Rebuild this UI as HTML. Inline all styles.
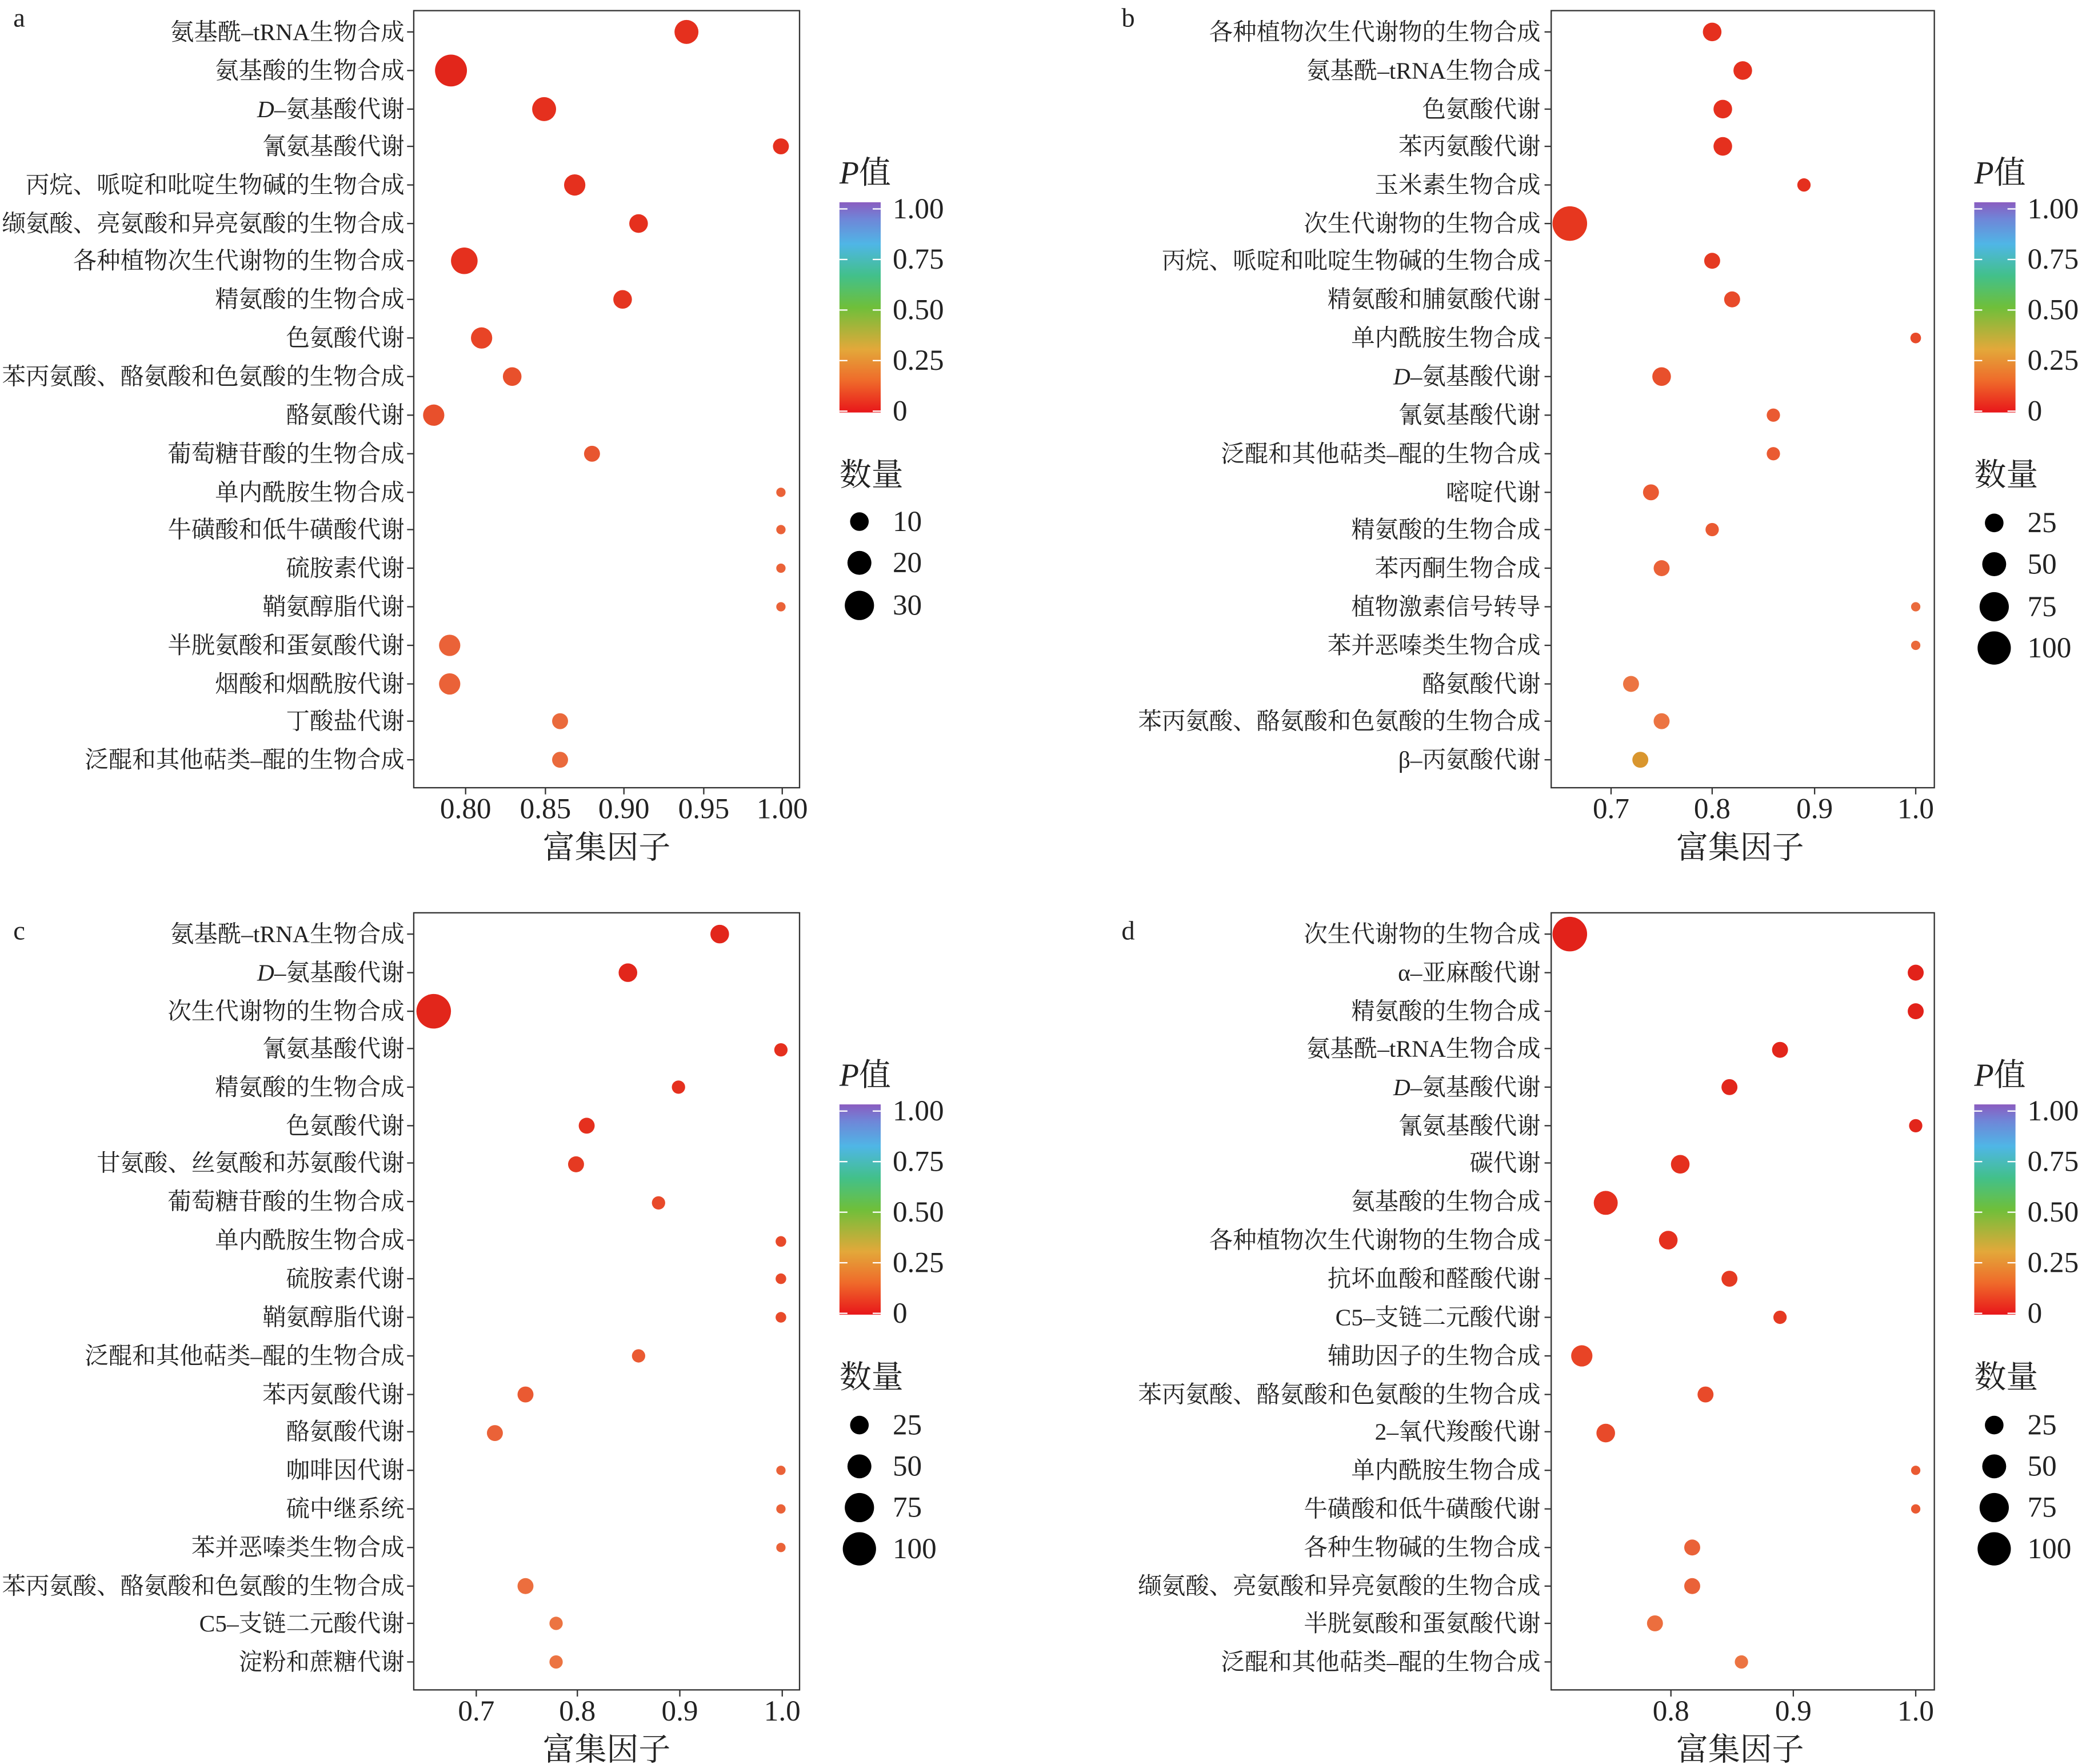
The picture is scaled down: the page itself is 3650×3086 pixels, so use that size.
<!DOCTYPE html>
<html><head><meta charset="utf-8">
<style>
html,body{margin:0;padding:0;background:#fff;}
svg{display:block;}
text{font-family:"Liberation Serif","Noto Serif CJK SC",serif;fill:#222;}
.lab{font-size:17.8px;text-anchor:end;}
.tk{font-size:22px;text-anchor:middle;}
.ttl{font-size:24px;text-anchor:middle;}
.lg{font-size:22px;}
.lgt{font-size:24px;}
</style></head><body>
<svg width="3650" height="3086" viewBox="0 0 1568 1325.7" preserveAspectRatio="none" xmlns="http://www.w3.org/2000/svg">
<defs>
<linearGradient id="cb" x1="0" y1="1" x2="0" y2="0">
<stop offset="0" stop-color="#e8161a"/>
<stop offset="0.15" stop-color="#ef6a2a"/>
<stop offset="0.3" stop-color="#e3a83a"/>
<stop offset="0.5" stop-color="#6fbf3a"/>
<stop offset="0.65" stop-color="#42c08a"/>
<stop offset="0.8" stop-color="#4fb6e6"/>
<stop offset="0.92" stop-color="#6f86d8"/>
<stop offset="1" stop-color="#8a5cc0"/>
</linearGradient>
</defs>
<rect width="1568" height="1325.7" fill="#fff"/>

<text x="10" y="20" style="font-size:20px">a</text>
<text x="843" y="20" style="font-size:20px">b</text>
<text x="10" y="706" style="font-size:20px">c</text>
<text x="843" y="706" style="font-size:20px">d</text>

<!-- ===== Panel a ===== -->
<rect x="311" y="8" width="290" height="584" fill="none" stroke="#333" stroke-width="1"/>
<g stroke="#333" stroke-width="1">
<line x1="306" x2="311" y1="24" y2="24"/><line x1="306" x2="311" y1="53" y2="53"/><line x1="306" x2="311" y1="82" y2="82"/><line x1="306" x2="311" y1="110" y2="110"/><line x1="306" x2="311" y1="139" y2="139"/><line x1="306" x2="311" y1="168" y2="168"/><line x1="306" x2="311" y1="196" y2="196"/><line x1="306" x2="311" y1="225" y2="225"/><line x1="306" x2="311" y1="254" y2="254"/><line x1="306" x2="311" y1="283" y2="283"/><line x1="306" x2="311" y1="312" y2="312"/><line x1="306" x2="311" y1="341" y2="341"/><line x1="306" x2="311" y1="370" y2="370"/><line x1="306" x2="311" y1="398" y2="398"/><line x1="306" x2="311" y1="427" y2="427"/><line x1="306" x2="311" y1="456" y2="456"/><line x1="306" x2="311" y1="485" y2="485"/><line x1="306" x2="311" y1="514" y2="514"/><line x1="306" x2="311" y1="542" y2="542"/><line x1="306" x2="311" y1="571" y2="571"/>
<line x1="350" x2="350" y1="592" y2="597"/><line x1="410" x2="410" y1="592" y2="597"/><line x1="469" x2="469" y1="592" y2="597"/><line x1="529" x2="529" y1="592" y2="597"/><line x1="588" x2="588" y1="592" y2="597"/>
</g>
<text class="lab" x="304" y="30">氨基酰–tRNA生物合成</text>
<text class="lab" x="304" y="59">氨基酸的生物合成</text>
<text class="lab" x="304" y="88"><tspan font-style="italic">D</tspan>–氨基酸代谢</text>
<text class="lab" x="304" y="116">氰氨基酸代谢</text>
<text class="lab" x="304" y="145">丙烷、哌啶和吡啶生物碱的生物合成</text>
<text class="lab" x="304" y="174">缬氨酸、亮氨酸和异亮氨酸的生物合成</text>
<text class="lab" x="304" y="202">各种植物次生代谢物的生物合成</text>
<text class="lab" x="304" y="231">精氨酸的生物合成</text>
<text class="lab" x="304" y="260">色氨酸代谢</text>
<text class="lab" x="304" y="289">苯丙氨酸、酪氨酸和色氨酸的生物合成</text>
<text class="lab" x="304" y="318">酪氨酸代谢</text>
<text class="lab" x="304" y="347">葡萄糖苷酸的生物合成</text>
<text class="lab" x="304" y="376">单内酰胺生物合成</text>
<text class="lab" x="304" y="404">牛磺酸和低牛磺酸代谢</text>
<text class="lab" x="304" y="433">硫胺素代谢</text>
<text class="lab" x="304" y="462">鞘氨醇脂代谢</text>
<text class="lab" x="304" y="491">半胱氨酸和蛋氨酸代谢</text>
<text class="lab" x="304" y="520">烟酸和烟酰胺代谢</text>
<text class="lab" x="304" y="548">丁酸盐代谢</text>
<text class="lab" x="304" y="577">泛醌和其他萜类–醌的生物合成</text>
<g>
<circle cx="516" cy="24" r="9" fill="#e5301e"/>
<circle cx="339" cy="53" r="12" fill="#e2261b"/>
<circle cx="409" cy="82" r="9" fill="#e5301e"/>
<circle cx="587" cy="110" r="6" fill="#e5301e"/>
<circle cx="432" cy="139" r="8" fill="#e5301e"/>
<circle cx="480" cy="168" r="7" fill="#e5301e"/>
<circle cx="349" cy="196" r="10" fill="#e5301e"/>
<circle cx="468" cy="225" r="7" fill="#e53520"/>
<circle cx="362" cy="254" r="8" fill="#e84426"/>
<circle cx="385" cy="283" r="7" fill="#e8502c"/>
<circle cx="326" cy="312" r="8" fill="#e8502c"/>
<circle cx="445" cy="341" r="6" fill="#e85630"/>
<circle cx="587" cy="370" r="3.5" fill="#ea6238"/>
<circle cx="587" cy="398" r="3.5" fill="#ea6238"/>
<circle cx="587" cy="427" r="3.5" fill="#ea6238"/>
<circle cx="587" cy="456" r="3.5" fill="#ea6238"/>
<circle cx="338" cy="485" r="8" fill="#ea6238"/>
<circle cx="338" cy="514" r="8" fill="#ea6238"/>
<circle cx="421" cy="542" r="6" fill="#ea6a3c"/>
<circle cx="421" cy="571" r="6" fill="#ea6a3c"/>
</g>
<text class="tk" x="350" y="615">0.80</text><text class="tk" x="410" y="615">0.85</text><text class="tk" x="469" y="615">0.90</text><text class="tk" x="529" y="615">0.95</text><text class="tk" x="588" y="615">1.00</text>
<text class="ttl" x="456" y="645">富集因子</text>

<text class="lgt" x="631" y="138"><tspan font-style="italic">P</tspan>值</text>
<rect x="631" y="152" width="31" height="158" fill="url(#cb)"/>
<g stroke="#fff" stroke-width="1"><line x1="631" x2="637" y1="157" y2="157"/><line x1="656" x2="662" y1="157" y2="157"/><line x1="631" x2="637" y1="195" y2="195"/><line x1="656" x2="662" y1="195" y2="195"/><line x1="631" x2="637" y1="233" y2="233"/><line x1="656" x2="662" y1="233" y2="233"/><line x1="631" x2="637" y1="271" y2="271"/><line x1="656" x2="662" y1="271" y2="271"/><line x1="631" x2="637" y1="309" y2="309"/><line x1="656" x2="662" y1="309" y2="309"/></g>
<text class="lg" x="671" y="164">1.00</text><text class="lg" x="671" y="202">0.75</text><text class="lg" x="671" y="240">0.50</text><text class="lg" x="671" y="278">0.25</text><text class="lg" x="671" y="316">0</text>
<text class="lgt" x="631" y="365">数量</text>
<circle cx="646" cy="392" r="7" fill="#000"/><circle cx="646" cy="423" r="9" fill="#000"/><circle cx="646" cy="455" r="11" fill="#000"/>
<text class="lg" x="671" y="399">10</text><text class="lg" x="671" y="430">20</text><text class="lg" x="671" y="462">30</text>

<!-- ===== Panel b ===== -->
<rect x="1166" y="8" width="288" height="584" fill="none" stroke="#333" stroke-width="1"/>
<g stroke="#333" stroke-width="1">
<line x1="1161" x2="1166" y1="24" y2="24"/><line x1="1161" x2="1166" y1="53" y2="53"/><line x1="1161" x2="1166" y1="82" y2="82"/><line x1="1161" x2="1166" y1="110" y2="110"/><line x1="1161" x2="1166" y1="139" y2="139"/><line x1="1161" x2="1166" y1="168" y2="168"/><line x1="1161" x2="1166" y1="196" y2="196"/><line x1="1161" x2="1166" y1="225" y2="225"/><line x1="1161" x2="1166" y1="254" y2="254"/><line x1="1161" x2="1166" y1="283" y2="283"/><line x1="1161" x2="1166" y1="312" y2="312"/><line x1="1161" x2="1166" y1="341" y2="341"/><line x1="1161" x2="1166" y1="370" y2="370"/><line x1="1161" x2="1166" y1="398" y2="398"/><line x1="1161" x2="1166" y1="427" y2="427"/><line x1="1161" x2="1166" y1="456" y2="456"/><line x1="1161" x2="1166" y1="485" y2="485"/><line x1="1161" x2="1166" y1="514" y2="514"/><line x1="1161" x2="1166" y1="542" y2="542"/><line x1="1161" x2="1166" y1="571" y2="571"/>
<line x1="1211" x2="1211" y1="592" y2="597"/><line x1="1287" x2="1287" y1="592" y2="597"/><line x1="1364" x2="1364" y1="592" y2="597"/><line x1="1440" x2="1440" y1="592" y2="597"/>
</g>
<text class="lab" x="1158" y="30">各种植物次生代谢物的生物合成</text>
<text class="lab" x="1158" y="59">氨基酰–tRNA生物合成</text>
<text class="lab" x="1158" y="88">色氨酸代谢</text>
<text class="lab" x="1158" y="116">苯丙氨酸代谢</text>
<text class="lab" x="1158" y="145">玉米素生物合成</text>
<text class="lab" x="1158" y="174">次生代谢物的生物合成</text>
<text class="lab" x="1158" y="202">丙烷、哌啶和吡啶生物碱的生物合成</text>
<text class="lab" x="1158" y="231">精氨酸和脯氨酸代谢</text>
<text class="lab" x="1158" y="260">单内酰胺生物合成</text>
<text class="lab" x="1158" y="289"><tspan font-style="italic">D</tspan>–氨基酸代谢</text>
<text class="lab" x="1158" y="318">氰氨基酸代谢</text>
<text class="lab" x="1158" y="347">泛醌和其他萜类–醌的生物合成</text>
<text class="lab" x="1158" y="376">嘧啶代谢</text>
<text class="lab" x="1158" y="404">精氨酸的生物合成</text>
<text class="lab" x="1158" y="433">苯丙酮生物合成</text>
<text class="lab" x="1158" y="462">植物激素信号转导</text>
<text class="lab" x="1158" y="491">苯并恶嗪类生物合成</text>
<text class="lab" x="1158" y="520">酪氨酸代谢</text>
<text class="lab" x="1158" y="548">苯丙氨酸、酪氨酸和色氨酸的生物合成</text>
<text class="lab" x="1158" y="577">β–丙氨酸代谢</text>
<g>
<circle cx="1287" cy="24" r="7" fill="#e5301e"/>
<circle cx="1310" cy="53" r="7" fill="#e5301e"/>
<circle cx="1295" cy="82" r="7" fill="#e5301e"/>
<circle cx="1295" cy="110" r="7" fill="#e5301e"/>
<circle cx="1356" cy="139" r="5" fill="#e5301e"/>
<circle cx="1180" cy="168" r="13" fill="#e6371f"/>
<circle cx="1287" cy="196" r="6" fill="#e53a22"/>
<circle cx="1302" cy="225" r="6" fill="#e84a2a"/>
<circle cx="1440" cy="254" r="4" fill="#e84a2a"/>
<circle cx="1249" cy="283" r="7" fill="#e8502c"/>
<circle cx="1333" cy="312" r="5" fill="#ea5a32"/>
<circle cx="1333" cy="341" r="5" fill="#ea5a32"/>
<circle cx="1241" cy="370" r="6" fill="#ea5a32"/>
<circle cx="1287" cy="398" r="5" fill="#ea5a32"/>
<circle cx="1249" cy="427" r="6" fill="#ea6238"/>
<circle cx="1440" cy="456" r="3.5" fill="#ea6a3c"/>
<circle cx="1440" cy="485" r="3.5" fill="#ea6a3c"/>
<circle cx="1226" cy="514" r="6" fill="#ec7442"/>
<circle cx="1249" cy="542" r="6" fill="#ec7442"/>
<circle cx="1233" cy="571" r="6" fill="#d9962e"/>
</g>
<text class="tk" x="1211" y="615">0.7</text><text class="tk" x="1287" y="615">0.8</text><text class="tk" x="1364" y="615">0.9</text><text class="tk" x="1440" y="615">1.0</text>
<text class="ttl" x="1308" y="645">富集因子</text>

<text class="lgt" x="1484" y="138"><tspan font-style="italic">P</tspan>值</text>
<rect x="1484" y="152" width="31" height="158" fill="url(#cb)"/>
<g stroke="#fff" stroke-width="1"><line x1="1484" x2="1490" y1="157" y2="157"/><line x1="1509" x2="1515" y1="157" y2="157"/><line x1="1484" x2="1490" y1="195" y2="195"/><line x1="1509" x2="1515" y1="195" y2="195"/><line x1="1484" x2="1490" y1="233" y2="233"/><line x1="1509" x2="1515" y1="233" y2="233"/><line x1="1484" x2="1490" y1="271" y2="271"/><line x1="1509" x2="1515" y1="271" y2="271"/><line x1="1484" x2="1490" y1="309" y2="309"/><line x1="1509" x2="1515" y1="309" y2="309"/></g>
<text class="lg" x="1524" y="164">1.00</text><text class="lg" x="1524" y="202">0.75</text><text class="lg" x="1524" y="240">0.50</text><text class="lg" x="1524" y="278">0.25</text><text class="lg" x="1524" y="316">0</text>
<text class="lgt" x="1484" y="365">数量</text>
<circle cx="1499" cy="393" r="7" fill="#000"/><circle cx="1499" cy="424" r="9" fill="#000"/><circle cx="1499" cy="456" r="11" fill="#000"/><circle cx="1499" cy="487" r="12.5" fill="#000"/>
<text class="lg" x="1524" y="400">25</text><text class="lg" x="1524" y="431">50</text><text class="lg" x="1524" y="463">75</text><text class="lg" x="1524" y="494">100</text>

<!-- ===== Panel c ===== -->
<g transform="translate(0,678)">
<rect x="311" y="8" width="290" height="584" fill="none" stroke="#333" stroke-width="1"/>
<g stroke="#333" stroke-width="1">
<line x1="306" x2="311" y1="24" y2="24"/><line x1="306" x2="311" y1="53" y2="53"/><line x1="306" x2="311" y1="82" y2="82"/><line x1="306" x2="311" y1="110" y2="110"/><line x1="306" x2="311" y1="139" y2="139"/><line x1="306" x2="311" y1="168" y2="168"/><line x1="306" x2="311" y1="196" y2="196"/><line x1="306" x2="311" y1="225" y2="225"/><line x1="306" x2="311" y1="254" y2="254"/><line x1="306" x2="311" y1="283" y2="283"/><line x1="306" x2="311" y1="312" y2="312"/><line x1="306" x2="311" y1="341" y2="341"/><line x1="306" x2="311" y1="370" y2="370"/><line x1="306" x2="311" y1="398" y2="398"/><line x1="306" x2="311" y1="427" y2="427"/><line x1="306" x2="311" y1="456" y2="456"/><line x1="306" x2="311" y1="485" y2="485"/><line x1="306" x2="311" y1="514" y2="514"/><line x1="306" x2="311" y1="542" y2="542"/><line x1="306" x2="311" y1="571" y2="571"/>
<line x1="358" x2="358" y1="592" y2="597"/><line x1="434" x2="434" y1="592" y2="597"/><line x1="511" x2="511" y1="592" y2="597"/><line x1="588" x2="588" y1="592" y2="597"/>
</g>
<text class="lab" x="304" y="30">氨基酰–tRNA生物合成</text>
<text class="lab" x="304" y="59"><tspan font-style="italic">D</tspan>–氨基酸代谢</text>
<text class="lab" x="304" y="88">次生代谢物的生物合成</text>
<text class="lab" x="304" y="116">氰氨基酸代谢</text>
<text class="lab" x="304" y="145">精氨酸的生物合成</text>
<text class="lab" x="304" y="174">色氨酸代谢</text>
<text class="lab" x="304" y="202">甘氨酸、丝氨酸和苏氨酸代谢</text>
<text class="lab" x="304" y="231">葡萄糖苷酸的生物合成</text>
<text class="lab" x="304" y="260">单内酰胺生物合成</text>
<text class="lab" x="304" y="289">硫胺素代谢</text>
<text class="lab" x="304" y="318">鞘氨醇脂代谢</text>
<text class="lab" x="304" y="347">泛醌和其他萜类–醌的生物合成</text>
<text class="lab" x="304" y="376">苯丙氨酸代谢</text>
<text class="lab" x="304" y="404">酪氨酸代谢</text>
<text class="lab" x="304" y="433">咖啡因代谢</text>
<text class="lab" x="304" y="462">硫中继系统</text>
<text class="lab" x="304" y="491">苯并恶嗪类生物合成</text>
<text class="lab" x="304" y="520">苯丙氨酸、酪氨酸和色氨酸的生物合成</text>
<text class="lab" x="304" y="548">C5–支链二元酸代谢</text>
<text class="lab" x="304" y="577">淀粉和蔗糖代谢</text>
<circle cx="541" cy="24" r="7" fill="#e2261b"/>
<circle cx="472" cy="53" r="7" fill="#e2261b"/>
<circle cx="326" cy="82" r="13" fill="#e2261b"/>
<circle cx="587" cy="111" r="5" fill="#e5301e"/>
<circle cx="510" cy="139" r="5" fill="#e5301e"/>
<circle cx="441" cy="168" r="6" fill="#e5301e"/>
<circle cx="433" cy="197" r="6" fill="#e53a22"/>
<circle cx="495" cy="226" r="5" fill="#e84a2a"/>
<circle cx="587" cy="255" r="4" fill="#e84a2a"/>
<circle cx="587" cy="283" r="4" fill="#e84a2a"/>
<circle cx="587" cy="312" r="4" fill="#e84a2a"/>
<circle cx="480" cy="341" r="5" fill="#ea5a32"/>
<circle cx="395" cy="370" r="6" fill="#ea5a32"/>
<circle cx="372" cy="399" r="6" fill="#ea6238"/>
<circle cx="587" cy="427" r="3.5" fill="#ea6238"/>
<circle cx="587" cy="456" r="3.5" fill="#ea6238"/>
<circle cx="587" cy="485" r="3.5" fill="#ea6238"/>
<circle cx="395" cy="514" r="6" fill="#ec6e3e"/>
<circle cx="418" cy="542" r="5" fill="#ec7442"/>
<circle cx="418" cy="571" r="5" fill="#ec7442"/>
<text class="tk" x="358" y="615">0.7</text><text class="tk" x="434" y="615">0.8</text><text class="tk" x="511" y="615">0.9</text><text class="tk" x="588" y="615">1.0</text>
<text class="ttl" x="456" y="645">富集因子</text>
<text class="lgt" x="631" y="138"><tspan font-style="italic">P</tspan>值</text>
<rect x="631" y="152" width="31" height="158" fill="url(#cb)"/>
<g stroke="#fff" stroke-width="1"><line x1="631" x2="637" y1="157" y2="157"/><line x1="656" x2="662" y1="157" y2="157"/><line x1="631" x2="637" y1="195" y2="195"/><line x1="656" x2="662" y1="195" y2="195"/><line x1="631" x2="637" y1="233" y2="233"/><line x1="656" x2="662" y1="233" y2="233"/><line x1="631" x2="637" y1="271" y2="271"/><line x1="656" x2="662" y1="271" y2="271"/><line x1="631" x2="637" y1="309" y2="309"/><line x1="656" x2="662" y1="309" y2="309"/></g>
<text class="lg" x="671" y="164">1.00</text><text class="lg" x="671" y="202">0.75</text><text class="lg" x="671" y="240">0.50</text><text class="lg" x="671" y="278">0.25</text><text class="lg" x="671" y="316">0</text>
<text class="lgt" x="631" y="365">数量</text>
<circle cx="646" cy="393" r="7" fill="#000"/><circle cx="646" cy="424" r="9" fill="#000"/><circle cx="646" cy="455" r="11" fill="#000"/><circle cx="646" cy="486" r="12.5" fill="#000"/>
<text class="lg" x="671" y="400">25</text><text class="lg" x="671" y="431">50</text><text class="lg" x="671" y="462">75</text><text class="lg" x="671" y="493">100</text>
</g>

<!-- ===== Panel d ===== -->
<g transform="translate(0,678)">
<rect x="1166" y="8" width="288" height="584" fill="none" stroke="#333" stroke-width="1"/>
<g stroke="#333" stroke-width="1">
<line x1="1161" x2="1166" y1="24" y2="24"/><line x1="1161" x2="1166" y1="53" y2="53"/><line x1="1161" x2="1166" y1="82" y2="82"/><line x1="1161" x2="1166" y1="110" y2="110"/><line x1="1161" x2="1166" y1="139" y2="139"/><line x1="1161" x2="1166" y1="168" y2="168"/><line x1="1161" x2="1166" y1="196" y2="196"/><line x1="1161" x2="1166" y1="225" y2="225"/><line x1="1161" x2="1166" y1="254" y2="254"/><line x1="1161" x2="1166" y1="283" y2="283"/><line x1="1161" x2="1166" y1="312" y2="312"/><line x1="1161" x2="1166" y1="341" y2="341"/><line x1="1161" x2="1166" y1="370" y2="370"/><line x1="1161" x2="1166" y1="398" y2="398"/><line x1="1161" x2="1166" y1="427" y2="427"/><line x1="1161" x2="1166" y1="456" y2="456"/><line x1="1161" x2="1166" y1="485" y2="485"/><line x1="1161" x2="1166" y1="514" y2="514"/><line x1="1161" x2="1166" y1="542" y2="542"/><line x1="1161" x2="1166" y1="571" y2="571"/>
<line x1="1256" x2="1256" y1="592" y2="597"/><line x1="1348" x2="1348" y1="592" y2="597"/><line x1="1440" x2="1440" y1="592" y2="597"/>
</g>
<text class="lab" x="1158" y="30">次生代谢物的生物合成</text>
<text class="lab" x="1158" y="59">α–亚麻酸代谢</text>
<text class="lab" x="1158" y="88">精氨酸的生物合成</text>
<text class="lab" x="1158" y="116">氨基酰–tRNA生物合成</text>
<text class="lab" x="1158" y="145"><tspan font-style="italic">D</tspan>–氨基酸代谢</text>
<text class="lab" x="1158" y="174">氰氨基酸代谢</text>
<text class="lab" x="1158" y="202">碳代谢</text>
<text class="lab" x="1158" y="231">氨基酸的生物合成</text>
<text class="lab" x="1158" y="260">各种植物次生代谢物的生物合成</text>
<text class="lab" x="1158" y="289">抗坏血酸和醛酸代谢</text>
<text class="lab" x="1158" y="318">C5–支链二元酸代谢</text>
<text class="lab" x="1158" y="347">辅助因子的生物合成</text>
<text class="lab" x="1158" y="376">苯丙氨酸、酪氨酸和色氨酸的生物合成</text>
<text class="lab" x="1158" y="404">2–氧代羧酸代谢</text>
<text class="lab" x="1158" y="433">单内酰胺生物合成</text>
<text class="lab" x="1158" y="462">牛磺酸和低牛磺酸代谢</text>
<text class="lab" x="1158" y="491">各种生物碱的生物合成</text>
<text class="lab" x="1158" y="520">缬氨酸、亮氨酸和异亮氨酸的生物合成</text>
<text class="lab" x="1158" y="548">半胱氨酸和蛋氨酸代谢</text>
<text class="lab" x="1158" y="577">泛醌和其他萜类–醌的生物合成</text>
<circle cx="1180" cy="24" r="13" fill="#e2221a"/>
<circle cx="1440" cy="53" r="6" fill="#e2221a"/>
<circle cx="1440" cy="82" r="6" fill="#e2221a"/>
<circle cx="1338" cy="111" r="6" fill="#e2261b"/>
<circle cx="1300" cy="139" r="6" fill="#e2261b"/>
<circle cx="1440" cy="168" r="5" fill="#e2261b"/>
<circle cx="1263" cy="197" r="7" fill="#e5301e"/>
<circle cx="1207" cy="226" r="9" fill="#e5301e"/>
<circle cx="1254" cy="254" r="7" fill="#e5301e"/>
<circle cx="1300" cy="283" r="6" fill="#e53a22"/>
<circle cx="1338" cy="312" r="5" fill="#e53a22"/>
<circle cx="1189" cy="341" r="8" fill="#e84426"/>
<circle cx="1282" cy="370" r="6" fill="#e84a2a"/>
<circle cx="1207" cy="399" r="7" fill="#e84a2a"/>
<circle cx="1440" cy="427" r="3.5" fill="#ea5a32"/>
<circle cx="1440" cy="456" r="3.5" fill="#ea5a32"/>
<circle cx="1272" cy="485" r="6" fill="#ea6238"/>
<circle cx="1272" cy="514" r="6" fill="#ea6238"/>
<circle cx="1244" cy="542" r="6" fill="#ec6e3e"/>
<circle cx="1309" cy="571" r="5" fill="#ec7442"/>
<text class="tk" x="1256" y="615">0.8</text><text class="tk" x="1348" y="615">0.9</text><text class="tk" x="1440" y="615">1.0</text>
<text class="ttl" x="1308" y="645">富集因子</text>
<text class="lgt" x="1484" y="138"><tspan font-style="italic">P</tspan>值</text>
<rect x="1484" y="152" width="31" height="158" fill="url(#cb)"/>
<g stroke="#fff" stroke-width="1"><line x1="1484" x2="1490" y1="157" y2="157"/><line x1="1509" x2="1515" y1="157" y2="157"/><line x1="1484" x2="1490" y1="195" y2="195"/><line x1="1509" x2="1515" y1="195" y2="195"/><line x1="1484" x2="1490" y1="233" y2="233"/><line x1="1509" x2="1515" y1="233" y2="233"/><line x1="1484" x2="1490" y1="271" y2="271"/><line x1="1509" x2="1515" y1="271" y2="271"/><line x1="1484" x2="1490" y1="309" y2="309"/><line x1="1509" x2="1515" y1="309" y2="309"/></g>
<text class="lg" x="1524" y="164">1.00</text><text class="lg" x="1524" y="202">0.75</text><text class="lg" x="1524" y="240">0.50</text><text class="lg" x="1524" y="278">0.25</text><text class="lg" x="1524" y="316">0</text>
<text class="lgt" x="1484" y="365">数量</text>
<circle cx="1499" cy="393" r="7" fill="#000"/><circle cx="1499" cy="424" r="9" fill="#000"/><circle cx="1499" cy="455" r="11" fill="#000"/><circle cx="1499" cy="486" r="12.5" fill="#000"/>
<text class="lg" x="1524" y="400">25</text><text class="lg" x="1524" y="431">50</text><text class="lg" x="1524" y="462">75</text><text class="lg" x="1524" y="493">100</text>
</g>
</svg>
</body></html>
